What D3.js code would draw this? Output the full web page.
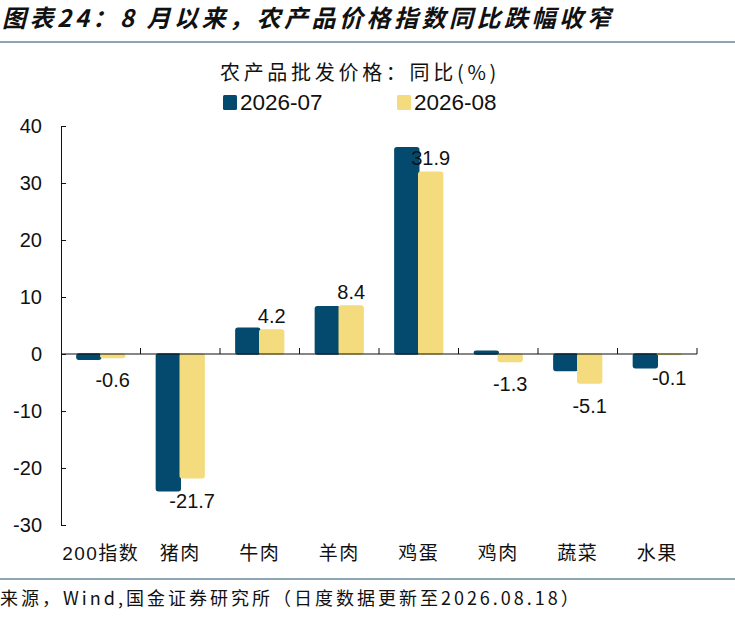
<!DOCTYPE html>
<html>
<head>
<meta charset="utf-8">
<script src="https://cdn.jsdelivr.net/npm/d3@7"></script>
<style>
  body { margin: 0; background: #fff; }
  svg { display: block; }
</style>
</head>
<body>
<div class="chart"></div>
<script>
const categories = ["200指数", "猪肉", "牛肉", "羊肉", "鸡蛋", "鸡肉", "蔬菜", "水果"];
const seriesNames = ["2026-07", "2026-08"];
const jul = [-0.9, -24.0, 4.5, 8.3, 36.2, 0.5, -2.9, -2.4];
const aug = [-0.6, -21.7, 4.2, 8.4, 31.9, -1.3, -5.1, -0.1];
const yTicks = [40, 30, 20, 10, 0, -10, -20, -30];
const colors = ["#034a6e", "#f4db7d"];

const width = 735, height = 619;
const margin = {left: 61, right: 38, top: 126, bottom: 94};

const svg = d3.select(".chart").append("svg")
    .attr("width", width)
    .attr("height", height);

// title + rules
svg.append("text")
    .attr("x", 2).attr("y", 27)
    .attr("font-family", "Noto Sans CJK SC")
    .attr("font-size", 24)
    .attr("font-weight", "bold")
    .attr("font-style", "italic")
    .attr("letter-spacing", 3.5)
    .attr("fill", "#111")
    .text("图表24：8 月以来，农产品价格指数同比跌幅收窄");

svg.append("line").attr("x1", 0).attr("x2", width).attr("y1", 42).attr("y2", 42)
    .attr("stroke", "#1d4d6b").attr("stroke-width", 1.2);
svg.append("line").attr("x1", 0).attr("x2", width).attr("y1", 579).attr("y2", 579)
    .attr("stroke", "#1d4d6b").attr("stroke-width", 1.2);

svg.append("text")
    .attr("x", 0).attr("y", 605)
    .attr("font-family", "Noto Sans CJK SC")
    .attr("font-size", 18)
    .attr("letter-spacing", 3)
    .attr("fill", "#111")
    .text("来源，Wind,国金证券研究所（日度数据更新至2026.08.18）");

// chart subtitle
svg.append("text")
    .attr("x", 360).attr("y", 80)
    .attr("text-anchor", "middle")
    .attr("font-family", "Noto Sans CJK SC")
    .attr("font-size", 20)
    .attr("letter-spacing", 3.7)
    .attr("fill", "#111")
    .text("农产品批发价格：同比(%)");

// legend
const legendX = [223, 397];
const legend = svg.selectAll("g.leg")
    .data(seriesNames)
    .join("g")
    .attr("class", "leg")
    .attr("transform", (d, i) => `translate(${legendX[i]},95)`);
legend.append("rect")
    .attr("width", 14).attr("height", 15).attr("rx", 1.5)
    .attr("fill", (d, i) => colors[i]);
legend.append("text")
    .attr("x", 17).attr("y", 15)
    .attr("font-family", "Liberation Sans, Arial")
    .attr("font-size", 22.5)
    .attr("fill", "#111")
    .text(d => d);

// scales
const x0 = d3.scaleBand()
    .domain(categories)
    .range([margin.left, width - margin.right])
    .paddingInner(0.4)
    .paddingOuter(0.2);
const x1 = d3.scaleBand()
    .domain(seriesNames)
    .range([0, x0.bandwidth()]);
const y = d3.scaleLinear()
    .domain([-30, 40])
    .range([height - margin.bottom, margin.top]);

const rows = categories.map((c, i) => ({cat: c, vals: [jul[i], aug[i]]}));

// bars
const grp = svg.append("g").selectAll("g")
    .data(rows)
    .join("g")
    .attr("transform", d => `translate(${x0(d.cat)},0)`);

grp.selectAll("rect")
    .data(d => d.vals.map((v, i) => ({v, s: seriesNames[i], i})))
    .join("rect")
    .attr("x", d => x1(d.s))
    .attr("width", x1.bandwidth())
    .attr("y", d => y(Math.max(0, d.v)))
    .attr("height", d => Math.abs(y(d.v) - y(0)))
    .attr("rx", 2)
    .attr("fill", d => colors[d.i])
    .attr("stroke", d => colors[d.i])
    .attr("stroke-width", 1.5);

// labels for 2026-08
grp.append("text")
    .attr("x", d => x1("2026-08") + x1.bandwidth() / 2)
    .attr("y", d => d.vals[1] >= 0 ? y(d.vals[1]) - 7 : y(d.vals[1]) + 30)
    .attr("text-anchor", "middle")
    .attr("font-family", "Liberation Sans, Arial")
    .attr("font-size", 20)
    .attr("fill", "#111")
    .text(d => d.vals[1].toFixed(1));

// y axis
const yAxis = svg.append("g")
    .attr("transform", `translate(${margin.left},0)`)
    .call(d3.axisLeft(y).tickValues(yTicks).tickFormat(d => String(d)).tickSizeInner(-5).tickSizeOuter(0).tickPadding(19));
yAxis.select(".domain").attr("stroke", "#111");
yAxis.selectAll(".tick line").attr("stroke", "#111");
yAxis.selectAll("text")
    .attr("font-family", "Liberation Sans, Arial")
    .attr("font-size", 20)
    .attr("fill", "#111");

// zero line with category ticks
const bounds = d3.range(1, categories.length + 1).map(i => margin.left + i * x0.step());
svg.append("line")
    .attr("x1", margin.left).attr("x2", width - margin.right)
    .attr("y1", y(0)).attr("y2", y(0))
    .attr("stroke", "#111").attr("stroke-width", 1.2);
svg.append("g").selectAll("line")
    .data(bounds)
    .join("line")
    .attr("x1", d => d).attr("x2", d => d)
    .attr("y1", y(0)).attr("y2", y(0) - 6)
    .attr("stroke", "#111");

// category labels
svg.append("g").selectAll("text")
    .data(categories)
    .join("text")
    .attr("x", d => x0(d) + x0.bandwidth() / 2)
    .attr("y", 560)
    .attr("text-anchor", "middle")
    .attr("font-family", "Liberation Sans, Noto Sans CJK SC")
    .attr("font-size", 19)
    .attr("letter-spacing", 1.5)
    .attr("fill", "#111")
    .text(d => d);
</script>
</body>
</html>
